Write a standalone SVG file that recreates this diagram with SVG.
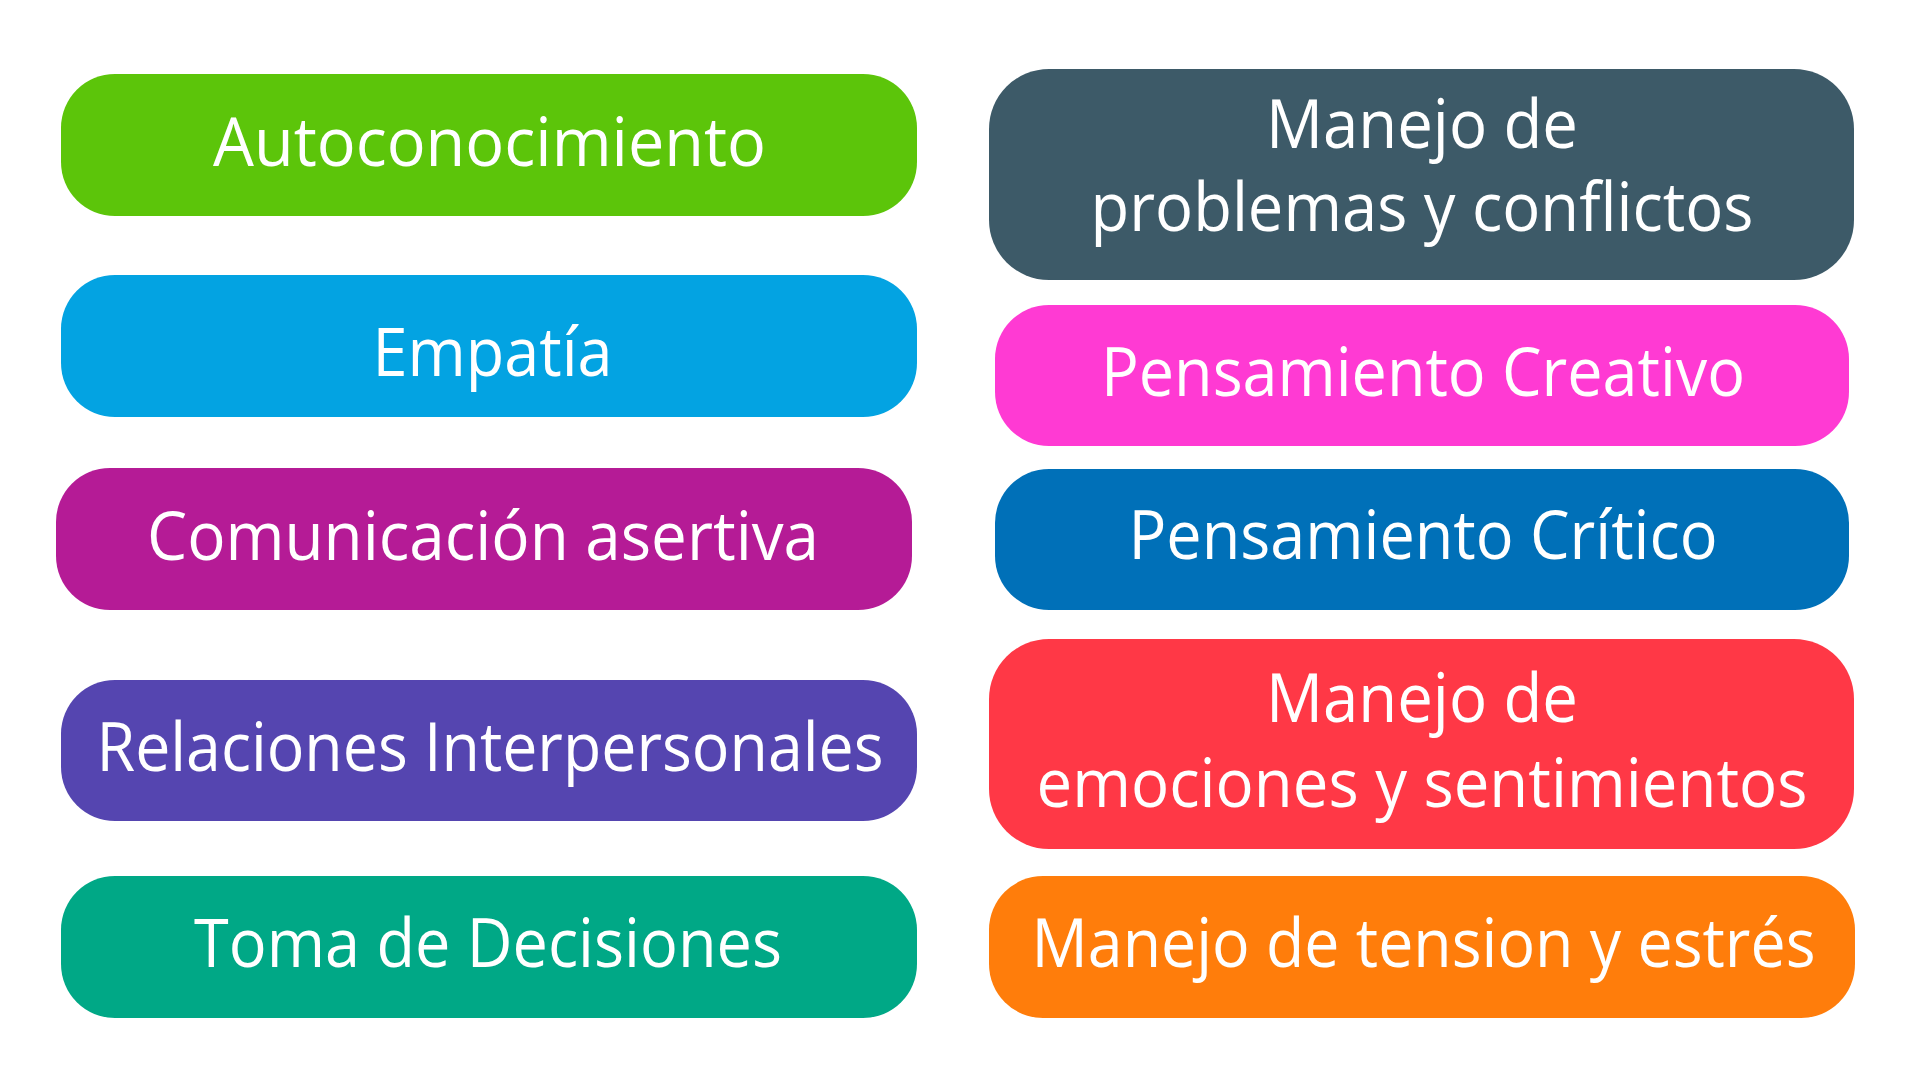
<svg xmlns="http://www.w3.org/2000/svg" width="1920" height="1080" viewBox="0 0 1920 1080">
<style>
.lbl{font-family:"Open Sans","Noto Sans","Liberation Sans",sans-serif;font-size:68px;fill:#ffffff;text-anchor:middle;}
</style>
<rect x="0" y="0" width="1920" height="1080" fill="#ffffff"/>
<g id="node-autoconocimiento">
<rect x="61" y="74" width="856" height="142" rx="54" ry="54" fill="#5CC50A"/>
<text class="lbl" x="489.5" y="166" textLength="553" lengthAdjust="spacingAndGlyphs">Autoconocimiento</text>
</g>
<g id="node-empatia">
<rect x="61" y="275" width="856" height="142" rx="54" ry="54" fill="#03A3E2"/>
<text class="lbl" x="492.5" y="376" textLength="240" lengthAdjust="spacingAndGlyphs">Empatía</text>
</g>
<g id="node-comunicacion">
<rect x="56" y="468" width="856" height="142" rx="54" ry="54" fill="#B51B96"/>
<text class="lbl" x="483" y="560" textLength="672" lengthAdjust="spacingAndGlyphs">Comunicación asertiva</text>
</g>
<g id="node-relaciones">
<rect x="61" y="680" width="856" height="141" rx="54" ry="54" fill="#5545B0"/>
<text class="lbl" x="490" y="771" textLength="787" lengthAdjust="spacingAndGlyphs">Relaciones Interpersonales</text>
</g>
<g id="node-toma">
<rect x="61" y="876" width="856" height="142" rx="54" ry="54" fill="#00A886"/>
<text class="lbl" x="488" y="967" textLength="588" lengthAdjust="spacingAndGlyphs">Toma de Decisiones</text>
</g>
<g id="node-problemas">
<rect x="989" y="69" width="865" height="211" rx="60" ry="60" fill="#3D5A68"/>
<text class="lbl" x="1422" y="148" textLength="312" lengthAdjust="spacingAndGlyphs">Manejo de</text>
<text class="lbl" x="1422" y="231" textLength="663" lengthAdjust="spacingAndGlyphs">problemas y conflictos</text>
</g>
<g id="node-creativo">
<rect x="995" y="305" width="854" height="141" rx="54" ry="54" fill="#FF3AD3"/>
<text class="lbl" x="1423" y="396" textLength="644" lengthAdjust="spacingAndGlyphs">Pensamiento Creativo</text>
</g>
<g id="node-critico">
<rect x="995" y="469" width="854" height="141" rx="54" ry="54" fill="#0070B8"/>
<text class="lbl" x="1423" y="559" textLength="589" lengthAdjust="spacingAndGlyphs">Pensamiento Crítico</text>
</g>
<g id="node-emociones">
<rect x="989" y="639" width="865" height="210" rx="60" ry="60" fill="#FF3846"/>
<text class="lbl" x="1422" y="722" textLength="312" lengthAdjust="spacingAndGlyphs">Manejo de</text>
<text class="lbl" x="1422" y="807" textLength="771" lengthAdjust="spacingAndGlyphs">emociones y sentimientos</text>
</g>
<g id="node-tension">
<rect x="989" y="876" width="866" height="142" rx="54" ry="54" fill="#FF7D0B"/>
<text class="lbl" x="1423.5" y="967" textLength="784" lengthAdjust="spacingAndGlyphs">Manejo de tension y estrés</text>
</g>
<g id="connectors"></g>
</svg>
